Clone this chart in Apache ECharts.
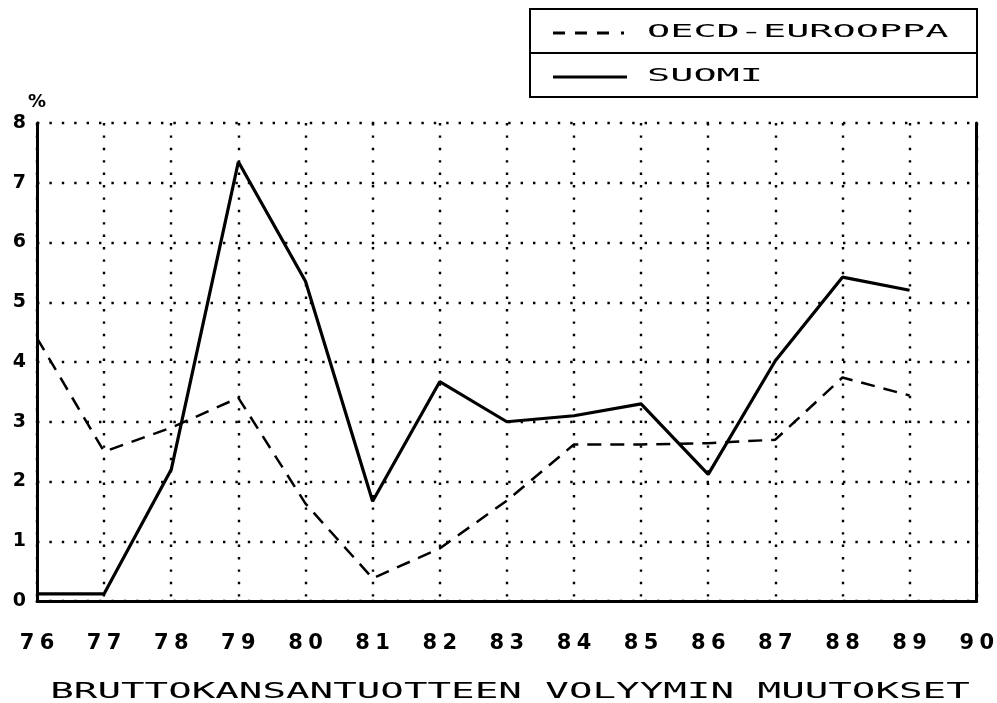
<!DOCTYPE html>
<html>
<head>
<meta charset="utf-8">
<script src="https://cdn.jsdelivr.net/npm/echarts@6/dist/echarts.min.js"></script>
<style>
	html, body {margin: 0; padding: 0; background: #fff;}
	#chart {width: 997px; height: 703px;}
</style>
</head>
<body>
<div id="chart"></div>
<script>
// vuodet x-akselilla
const years = ['76', '77', '78', '79', '80', '81', '82', '83', '84', '85', '86', '87', '88', '89', '90'];
const seriesNames = ['OECD-EUROOPPA', 'SUOMI'];
// BKT:n volyymin muutos, %
const oecd = [4.4, 2.5, 2.9, 3.4, 1.63, 0.38, 0.88, 1.68, 2.62, 2.62, 2.64, 2.7, 3.74, 3.44];
const suomi = [0.12, 0.12, 2.2, 7.35, 5.35, 1.67, 3.67, 3.0, 3.1, 3.3, 2.12, 4.02, 5.42, 5.2];
const yMin = 0, yMax = 8, yStep = 1;
const yUnit = '%';
const chartTitle = 'BRUTTOKANSANTUOTTEEN VOLYYMIN MUUTOKSET';

const mono = '"DejaVu Sans Mono", monospace';
const sans = '"DejaVu Sans", sans-serif';
const dots = {color: '#000', width: 2.4, type: [2.4, 10], cap: 'butt'};

// plotterin leveä merkkiväli
function spaced(s) {
	return s.split('').map(c => '{c|' + c + '}').join('');
}

let chart = echarts.init(document.getElementById('chart'));
let option = {
	animation: false,
	grid: {left: 37, right: 20, top: 123, bottom: 102},
	xAxis: {
		type: 'category',
		data: years,
		boundaryGap: false,
		axisLine: {lineStyle: {color: '#000', width: 3}},
		axisTick: {show: false},
		axisLabel: {
			margin: 32,
			formatter: spaced,
			rich: {
				c: {width: 20, align: 'center', fontFamily: sans, fontSize: 21, fontWeight: 'bold', color: '#000'}
			}
		},
		splitLine: {show: true, lineStyle: dots}
	},
	yAxis: [
		{
			type: 'value',
			min: yMin,
			max: yMax,
			interval: yStep,
			name: yUnit,
			nameGap: 12,
			nameTextStyle: {fontFamily: sans, fontSize: 18, fontWeight: 'bold', color: '#000'},
			axisLine: {show: true, lineStyle: {color: '#000', width: 3}},
			axisTick: {show: false},
			axisLabel: {margin: 11, fontFamily: sans, fontSize: 19, fontWeight: 'bold', color: '#000'},
			splitLine: {show: true, lineStyle: dots}
		},
		{
			type: 'value',
			min: yMin,
			max: yMax,
			interval: yStep,
			position: 'right',
			axisLine: {show: true, lineStyle: {color: '#000', width: 3}},
			axisTick: {show: false},
			axisLabel: {show: false},
			splitLine: {show: false}
		}
	],
	series: [
		{
			name: seriesNames[0],
			type: 'line',
			data: oecd,
			symbol: 'none',
			z: 3,
			lineStyle: {color: '#000', width: 2.5, type: [14, 9]}
		},
		{
			name: seriesNames[1],
			type: 'line',
			data: suomi,
			symbol: 'none',
			z: 4,
			lineStyle: {color: '#000', width: 3.2}
		}
	],
	graphic: [
		{
			type: 'rect',
			shape: {x: 530, y: 9, width: 447, height: 88},
			style: {fill: '#fff', stroke: '#000', lineWidth: 2}
		},
		{
			type: 'line',
			shape: {x1: 530, y1: 53, x2: 977, y2: 53},
			style: {stroke: '#000', lineWidth: 2}
		},
		{
			type: 'line',
			shape: {x1: 553, y1: 33, x2: 625, y2: 33},
			style: {stroke: '#000', lineWidth: 3, lineDash: [12, 10, 12, 10, 12, 12, 3, 20]}
		},
		{
			type: 'line',
			shape: {x1: 553, y1: 77, x2: 627, y2: 77},
			style: {stroke: '#000', lineWidth: 3}
		},
		{
			type: 'text',
			x: 647, y: 32, scaleX: 2.14,
			style: {text: seriesNames[0], font: '18px ' + mono, fill: '#000', textAlign: 'left', textVerticalAlign: 'middle'}
		},
		{
			type: 'text',
			x: 647, y: 76, scaleX: 2.14,
			style: {text: seriesNames[1], font: '18px ' + mono, fill: '#000', textAlign: 'left', textVerticalAlign: 'middle'}
		},
		{
			type: 'text',
			x: 510, y: 692, scaleX: 1.78,
			style: {text: chartTitle, font: '22px ' + mono, fill: '#000', textAlign: 'center', textVerticalAlign: 'middle'}
		}
	]
};
chart.setOption(option);
</script>
</body>
</html>
